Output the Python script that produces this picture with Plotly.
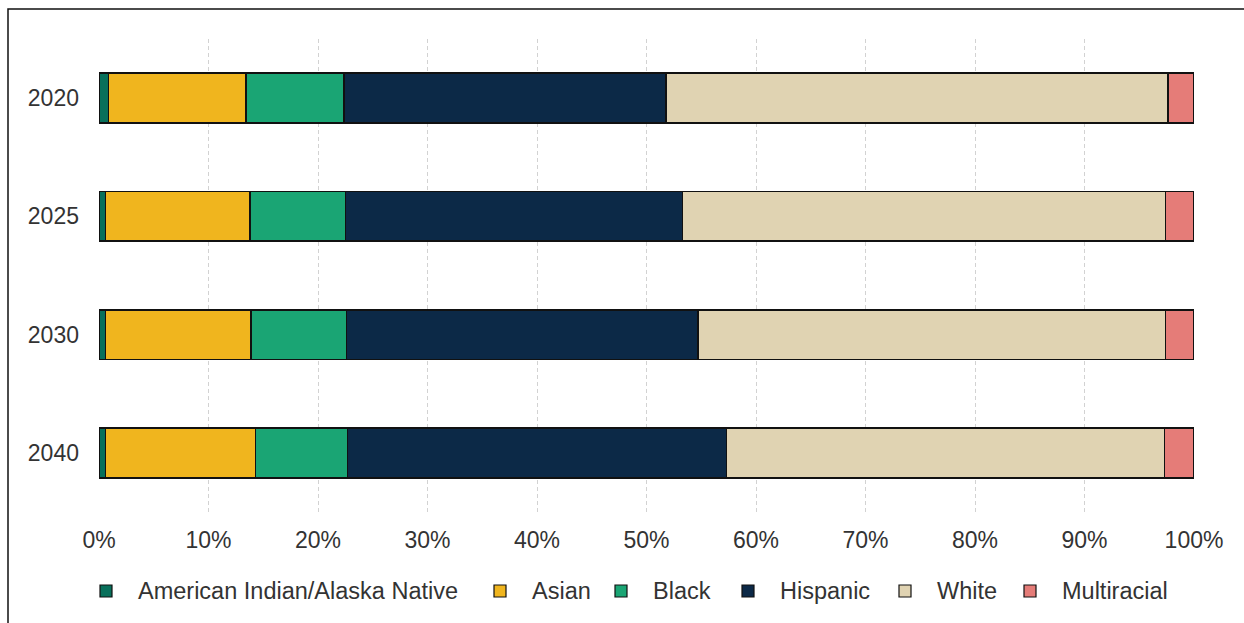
import plotly.graph_objects as go

# Projected population shares by race/ethnicity (percent of total)
years = ["2020", "2025", "2030", "2040"]
american_indian = [0.85, 0.6, 0.6, 0.6]
asian = [12.55, 13.2, 13.3, 13.7]
black = [9.0, 8.7, 8.7, 8.4]
hispanic = [29.4, 30.8, 32.1, 34.6]
white = [45.8, 44.1, 42.7, 40.0]
multiracial = [2.4, 2.6, 2.6, 2.7]

groups = ["American Indian/Alaska Native", "Asian", "Black", "Hispanic", "White", "Multiracial"]
colors = ["#08705B", "#F0B51E", "#1AA574", "#0C2947", "#E0D3B2", "#E57C78"]
values = [american_indian, asian, black, hispanic, white, multiracial]

W, H = 1244, 623
L, R, T, B = 99, 50, 39, 111
pw, ph = W - L - R, H - T - B


def px_x(px):
    return (px - L) / pw


def px_y(py):
    return (H - B - py) / ph


fig = go.Figure()
for name, vals, color in zip(groups, values, colors):
    fig.add_trace(go.Bar(
        name=name, y=years, x=vals, orientation="h",
        marker=dict(color=color, line=dict(color="#111111", width=1.6)),
        hovertemplate="%{y}: %{x:.1f}%<extra>" + name + "</extra>",
        showlegend=False,
    ))

font_family = "Liberation Sans, Arial, sans-serif"
text_color = "#333333"
tick_size = 23
legend_size = 23.5

# Legend row laid out along the bottom: swatch centres (px), labels follow each swatch
swatch_x = [106, 500, 621, 748, 905, 1030]
legend_y = 591
swatch = 12
shapes = []
annotations = []
for gx, name, color in zip(swatch_x, groups, colors):
    shapes.append(dict(
        type="rect", xref="paper", yref="paper",
        x0=px_x(gx - swatch / 2), x1=px_x(gx + swatch / 2),
        y0=px_y(legend_y + swatch / 2), y1=px_y(legend_y - swatch / 2),
        fillcolor=color, line=dict(color="#111111", width=1.2),
    ))
    annotations.append(dict(
        xref="paper", yref="paper", x=px_x(gx + 30), y=px_y(legend_y),
        xanchor="left", yanchor="middle", showarrow=False, text=name,
        font=dict(family=font_family, size=legend_size, color=text_color),
    ))

# Outer frame around the figure
shapes.append(dict(
    type="rect", xref="paper", yref="paper",
    x0=px_x(8), x1=px_x(1260), y0=px_y(640), y1=px_y(9),
    line=dict(color="#111111", width=1.5), fillcolor="rgba(0,0,0,0)",
    layer="below",
))

fig.update_layout(
    width=W, height=H,
    margin=dict(l=L, r=R, t=T, b=B),
    barmode="stack", bargap=0.58,
    paper_bgcolor="white", plot_bgcolor="white",
    font=dict(family=font_family, size=tick_size, color=text_color),
    showlegend=False,
    xaxis=dict(
        range=[0, 100], tickvals=list(range(0, 101, 10)),
        ticktext=[f"{v}%" for v in range(0, 101, 10)],
        showgrid=True, gridcolor="#D2D2D2", griddash="4px,3px", gridwidth=1.2,
        zeroline=False, showline=False, ticks="",
        ticklabelstandoff=12,
        tickfont=dict(size=tick_size, color=text_color),
    ),
    yaxis=dict(
        type="category", autorange="reversed",
        showgrid=False, zeroline=False, showline=False, ticks="",
        ticklabelstandoff=19,
        tickfont=dict(size=tick_size, color=text_color),
    ),
    shapes=shapes,
    annotations=annotations,
)

fig.write_html("out.html")
